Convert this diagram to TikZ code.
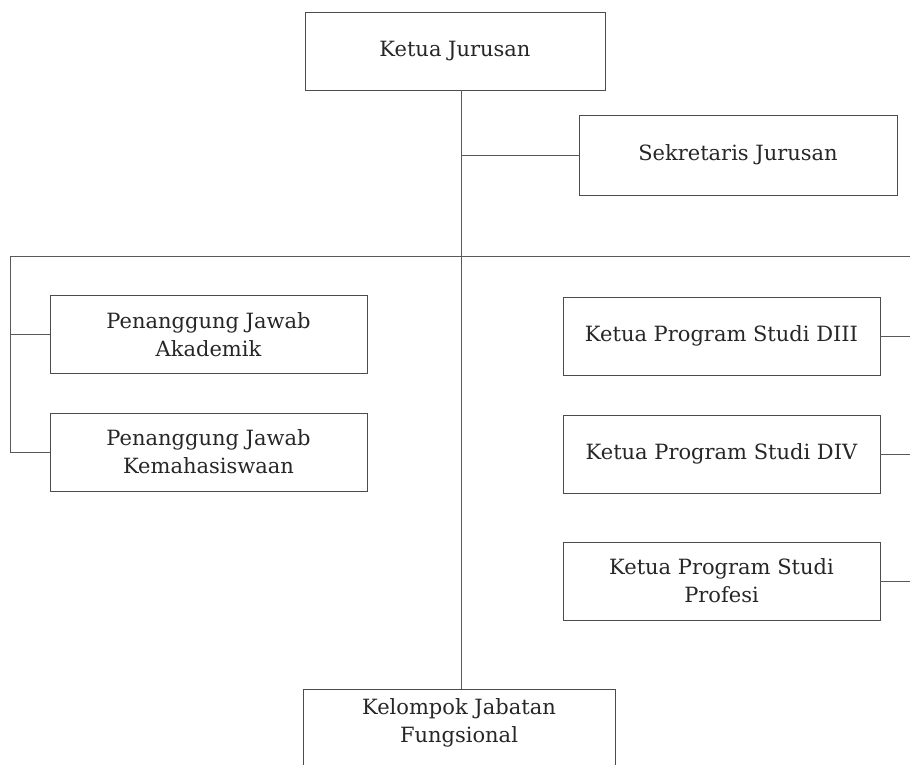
\documentclass[tikz,border=0pt]{standalone}
\usepackage{fontspec}
\setmainfont{DejaVu Serif}
\begin{document}
\begin{tikzpicture}[x=1pt,y=-1pt,
  unit/.style={draw=black!70,line width=0.9pt,rectangle,minimum width=317pt,minimum height=78pt,inner sep=0pt,align=center,text=black!85,font=\fontsize{21}{28}\selectfont},
  link/.style={draw=black!65,line width=0.9pt}]
\useasboundingbox (0,0) rectangle (910,765);
\clip (0,0) rectangle (910,765);
\node[unit,minimum width=300pt] (ketua) at (455,51) {Ketua Jurusan};
\node[unit,minimum width=318pt,minimum height=80pt] (sek) at (738,155) {Sekretaris Jurusan};
\node[unit] (akad) at (208.5,334.5) {Penanggung Jawab\\Akademik};
\node[unit] (kema) at (208.5,452) {Penanggung Jawab\\Kemahasiswaan};
\node[unit] (d3) at (721.5,336) {Ketua Program Studi DIII};
\node[unit] (d4) at (721.5,454) {Ketua Program Studi DIV};
\node[unit] (prof) at (721.5,581) {Ketua Program Studi\\Profesi};
\node[unit,minimum width=312pt,minimum height=110pt,anchor=north] (kel) at (459,689) {};
\node[align=center,text=black!85,font=\fontsize{21}{28}\selectfont] (keltext) at (459,723) {Kelompok Jabatan\\Fungsional};
\coordinate (j1) at (461,155);
\coordinate (L) at (10,256);
\coordinate (R) at (910,256);
\draw[link] (ketua.south -| j1) -- (kel.north -| j1);
\draw[link] (sek.west -| j1) -- (sek.west);
\draw[link] (L) -- (R);
\draw[link] (L) -- (kema.west -| L) -- (kema.west);
\draw[link] (akad.west -| L) -- (akad.west);
\draw[link] (d3.east) -- (d3.east -| R);
\draw[link] (d4.east) -- (d4.east -| R);
\draw[link] (prof.east) -- (prof.east -| R);
\end{tikzpicture}
\end{document}
